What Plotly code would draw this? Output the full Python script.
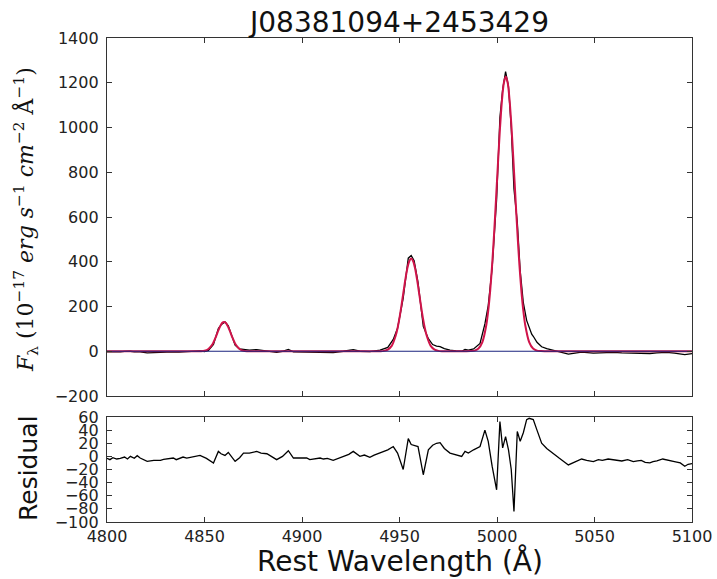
import plotly.graph_objects as go
from plotly.subplots import make_subplots

TITLE = "J08381094+2453429"

# ---- model fit (red) ----
fit_wave = [4800, 4845, 4848, 4850, 4852, 4854, 4856, 4857, 4858, 4859, 4860, 4861, 4862, 4863, 4864, 4866, 4868, 4870, 4872, 4875,
            4938, 4940, 4942, 4944, 4946, 4948, 4949, 4950, 4951, 4952, 4953, 4954, 4955, 4956, 4957, 4958, 4959, 4960, 4961,
            4962, 4963, 4964, 4966, 4968, 4970, 4972, 4975,
            4984, 4986.5, 4988.5, 4990.5, 4992.5, 4994.5, 4995.5, 4996.5, 4997.5, 4998.5, 4999.5, 5000.5, 5001.5, 5002.5,
            5003.5, 5004.5, 5005.5, 5006.5, 5007.5, 5008.5, 5009.5, 5010.5, 5011.5, 5012.5, 5013.5, 5014.5, 5016.5, 5018.5,
            5020.5, 5022.5, 5025, 5100]
fit_flux = [0, 0, 0.4, 2, 10, 30, 68, 91, 111, 126, 131, 126, 111, 91, 68, 30, 10, 2, 0.4, 0,
            0, 0.3, 1.6, 7, 24, 68, 103, 149, 204, 263, 321, 370, 402, 414, 402, 370, 321, 263, 204,
            149, 103, 68, 24, 7, 1.6, 0.3, 0,
            0, 0.6, 3, 12, 41, 116, 181, 270, 386, 524, 680, 841, 992, 1117,
            1199, 1228, 1199, 1117, 992, 841, 680, 524, 386, 270, 181, 116, 41, 12,
            3, 0.6, 0, 0]

# ---- observed spectrum (black) ----
data_wave = [4800, 4803, 4806.8, 4809, 4812, 4814, 4817, 4820.6, 4824, 4827.4, 4831, 4834, 4837, 4840.9, 4844, 4847.7,
             4850, 4852, 4854.6, 4857.1, 4858.5, 4860.5, 4862.2, 4864, 4865.7, 4868, 4870, 4873, 4876.8, 4879, 4882,
             4887, 4890, 4893, 4895.6, 4899, 4902.4, 4906, 4909.3, 4913, 4916, 4921.2, 4926.3, 4929.7, 4934.8, 4940,
             4944, 4946.8, 4949, 4951.9, 4954.5, 4956, 4957.5, 4959.5, 4962.2, 4964.8, 4967, 4969, 4970.8, 4973, 4975.9,
             4979, 4981.9, 4983.6, 4985.3, 4988, 4991.3, 4993.8, 4995.5, 4997.5, 4999.8, 5001.5, 5002.9, 5004.4, 5005.9,
             5007.3, 5008.7, 5010.4, 5011.9, 5013.5, 5015.2, 5017.8, 5018.6, 5020.5, 5022.9, 5025.5, 5028.8, 5032,
             5036.6, 5040, 5043.4, 5049.4, 5054, 5059.6, 5064, 5069.9, 5074, 5078.4, 5082, 5087, 5091, 5096.3, 5100]
data_flux = [-3, -4, -3, -1, 0, -3, -2.5, -7.6, -6, -6, -4, -2.5, -4, -2.5, -1, 2,
             -1, 4, 30, 101, 118, 131, 114, 68, 27, 10, 7, 5, 7.6, 5, 4,
             -5, 0, 8.6, -2.5, -3, -2.5, -4, -2.5, -3, -6, 0, 7.6, 0, -1.5, 5,
             17, 53, 103, 237, 416, 428, 405, 308, 111, 56, 30, 23, 21, 12, 5,
             2, 0, 7.6, 5, 10, 35, 122, 204, 371, 678, 1045, 1169, 1250, 1183,
             1000, 725, 577, 359, 217, 138, 76, 67, 40, 20, 12, 5, -3,
             -13, -8, -4, -8, -6, -5, -7, -8, -6, -10, -7, -5, -8, -15, -11]

# ---- residual (data - fit) ----
res_wave = [4800, 4801.5, 4803, 4805, 4806.8, 4809, 4810.5, 4812, 4814, 4815.5, 4817, 4819, 4820.6, 4824, 4827.4, 4829,
            4831, 4834, 4835.5, 4837, 4839, 4840.9, 4844, 4847.7,
            4851, 4854.6, 4857.1, 4858.5, 4860.5, 4862.2, 4865.7, 4868, 4870, 4873, 4876.8, 4879, 4882, 4887, 4890,
            4893, 4895.6, 4899, 4902.4, 4904, 4906, 4909.3, 4911, 4913, 4916, 4921.2, 4924, 4926.3, 4929.7, 4932,
            4934.8, 4937, 4940, 4944, 4946.8,
            4949, 4951.9, 4954.5, 4956, 4959.5, 4962.2, 4964.8, 4967, 4969, 4970.8, 4973, 4975.9, 4979, 4981.9, 4983.6,
            4985.3, 4988, 4991.3, 4993.8, 4995.5, 4997.5, 4999.8, 5001.5, 5002.9, 5004.4, 5005.9, 5007.3, 5008.7,
            5010.4, 5011.9, 5013.5, 5015.2, 5016.5, 5017.8, 5018.6, 5020.5, 5022.9, 5025.5, 5028.8, 5032, 5036.6, 5040,
            5043.4, 5046, 5049.4, 5052, 5054, 5057, 5059.6, 5062, 5064, 5067, 5069.9, 5072, 5074, 5076, 5078.4, 5080,
            5082, 5085, 5087, 5091, 5094, 5096.3, 5098, 5100]
res_flux = [-3, -5, -2, -4, -3, -1, -4, 0, -3, 1, -2.5, -5, -7.6, -6, -6, -4.5,
            -4, -2.5, -5, -3, -1, -2.5, -1, 1.5,
            -3, -10, 7.6, 4, 1.5, 6, -7.6, -2, 5, 5, 7.6, 5, 4, -5, 0,
            8.6, -2.5, -3, -2.5, -5, -4, -2.5, -4, -3, -6, 0, 3, 7.6, 0, 2,
            -1.5, 2, 5, 10, 15,
            5, -20, 27, 18, 15, -28, 10, 17, 20, 21, 12, 5, 2, 0, 7.6,
            5, 10, 15, 40, 23, -15, -51, 53, 13, 30, 10, -20, -84,
            38, 23, 36, 56, 58, 57, 56, 40, 20, 12, 5, -3, -13, -8,
            -4, -6, -8, -5, -6, -4, -5, -7, -7, -5, -8, -7, -6, -9, -10, -8,
            -7, -4, -5, -8, -10, -15, -12, -11]

assert len(fit_wave) == len(fit_flux)
assert len(data_wave) == len(data_flux)
assert len(res_wave) == len(res_flux)

cont_wave = [4800, 5100]
cont_flux = [0, 0]

main_yticks = [-200, 0, 200, 400, 600, 800, 1000, 1200, 1400]
res_yticks = [-100, -80, -60, -40, -20, 0, 20, 40, 60]
xticks = [4800, 4850, 4900, 4950, 5000, 5050, 5100]

W, H = 717, 579
L, R, T, B = 107, 25, 38, 57
ph = H - T - B  # 484
main_bottom = (522 - 396) / ph
res_top = (522 - 417) / ph

fig = make_subplots(rows=2, cols=1, shared_xaxes=False)
fig.add_trace(go.Scatter(x=data_wave, y=data_flux, mode="lines",
                         line=dict(color="black", width=1.3), showlegend=False), row=1, col=1)
fig.add_trace(go.Scatter(x=fit_wave, y=fit_flux, mode="lines",
                         line=dict(color="#d0144a", width=2, shape="spline", smoothing=0.8), showlegend=False), row=1, col=1)
fig.add_trace(go.Scatter(x=cont_wave, y=cont_flux, mode="lines",
                         line=dict(color="#1a237e", width=1.2), showlegend=False), row=1, col=1)
fig.add_trace(go.Scatter(x=res_wave, y=res_flux, mode="lines",
                         line=dict(color="black", width=1.3), showlegend=False), row=2, col=1)

tickfont = dict(family="DejaVu Sans", size=16, color="#222")
axis_common = dict(showline=True, linecolor="#333", linewidth=1.3, mirror="ticks",
                   ticks="inside", ticklen=5, tickwidth=1, tickcolor="#333",
                   showgrid=False, zeroline=False, tickfont=tickfont, automargin=False)

fig.update_xaxes(domain=[0, 1], range=[4800, 5100], tickvals=xticks, showticklabels=False,
                 **axis_common, row=1, col=1)
fig.update_xaxes(domain=[0, 1], range=[4800, 5100], tickvals=xticks,
                 ticktext=[str(v) for v in xticks], **axis_common, row=2, col=1)
fig.update_yaxes(domain=[main_bottom, 1], range=[-200, 1400], tickvals=main_yticks,
                 ticklabelstandoff=4, **axis_common, row=1, col=1)
fig.update_yaxes(domain=[0, res_top], range=[-100, 60], tickvals=res_yticks,
                 ticklabelstandoff=4, **axis_common, row=2, col=1)

fig.update_layout(
    width=W, height=H,
    margin=dict(l=L, r=R, t=T, b=B, autoexpand=False),
    plot_bgcolor="white", paper_bgcolor="white",
    title=dict(text=TITLE, x=(L + (W - L - R) / 2) / W, xanchor="center",
               y=1 - 22 / H, yanchor="middle",
               font=dict(family="DejaVu Sans", size=28, color="#111")),
    annotations=[
        dict(text="Rest Wavelength (Å)", xref="paper", yref="paper", x=0.5, y=(522 - 561) / ph,
             xanchor="center", yanchor="middle", showarrow=False,
             font=dict(family="DejaVu Sans", size=28, color="#111")),
        dict(text="Residual", xref="paper", yref="paper", x=(28 - L) / (W - L - R), y=(522 - 468) / ph,
             xanchor="center", yanchor="middle", showarrow=False, textangle=-90,
             font=dict(family="DejaVu Sans", size=25, color="#111")),
        dict(text="<i>F</i><sub>λ</sub> (10<sup>−17</sup> <i>erg s</i><sup>−1</sup> <i>cm</i><sup>−2</sup> Å<sup>−1</sup>)",
             xref="paper", yref="paper", x=(26 - L) / (W - L - R), y=(522 - 220) / ph,
             xanchor="center", yanchor="middle", showarrow=False, textangle=-90,
             font=dict(family="DejaVu Serif", size=22, color="#111")),
    ],
)

fig.write_html("out.html")
